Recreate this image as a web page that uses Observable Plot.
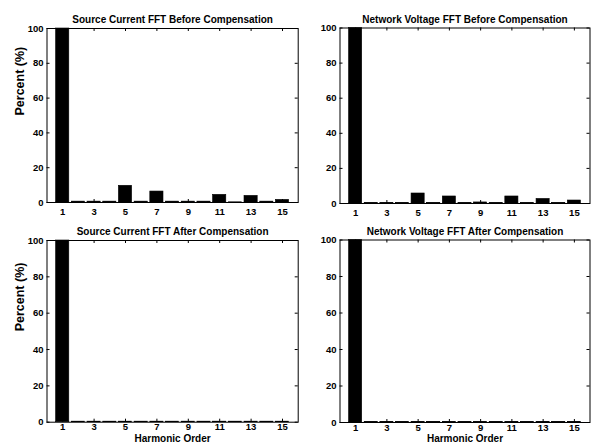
<!DOCTYPE html>
<html>
<head>
<meta charset="utf-8">
<script src="https://cdn.jsdelivr.net/npm/d3@7"></script>
<script src="https://cdn.jsdelivr.net/npm/@observablehq/plot@0.6"></script>
<style>
  html, body { margin: 0; padding: 0; background: #fff; }
  #wrap { position: relative; width: 591px; height: 446px; overflow: hidden; }
  #wrap svg { position: absolute; overflow: visible; }
</style>
</head>
<body>
<div id="wrap"></div>
<script>
const harmonics = [1, 2, 3, 4, 5, 6, 7, 8, 9, 10, 11, 12, 13, 14, 15];
const xTicks = [1, 3, 5, 7, 9, 11, 13, 15];
const yTicks = [0, 20, 40, 60, 80, 100];

const sourceBefore  = [100, 0.5, 0.5, 0.5, 9.6, 0.5, 6.3, 0.5, 0.5, 0.5, 4.4, 0.1, 3.8, 0.5, 1.5];
const networkBefore = [100, 0.2, 0.2, 0.2, 5.7, 0.2, 4.0, 0.2, 0.6, 0.2, 4.0, 0.2, 2.6, 0.2, 1.7];
const sourceAfter   = [100, 0.3, 0.3, 0.3, 0.3, 0.3, 0.3, 0.3, 0.3, 0.3, 0.3, 0.3, 0.3, 0.3, 0.3];
const networkAfter  = [100, 0.3, 0.3, 0.3, 0.3, 0.3, 0.3, 0.3, 0.3, 0.3, 0.3, 0.3, 0.3, 0.3, 0.3];

const titles = [
  "Source Current FFT Before Compensation",
  "Network Voltage FFT Before Compensation",
  "Source Current FFT After Compensation",
  "Network Voltage FFT After Compensation"
];
const yLabel = "Percent (%)";
const xLabel = "Harmonic Order";

const panels = [
  {title: titles[0], values: sourceBefore,  left: 0,   top: 0,   width: 300, height: 220, mL: 46.5, mR: 2.3, mT: 28,   mB: 18,   yl: true,  xl: false},
  {title: titles[1], values: networkBefore, left: 300, top: 0,   width: 291, height: 220, mL: 39.5, mR: 1.5, mT: 27.5, mB: 17,   yl: false, xl: false},
  {title: titles[2], values: sourceAfter,   left: 0,   top: 220, width: 300, height: 226, mL: 46.5, mR: 2.3, mT: 20,   mB: 24.3, yl: true,  xl: true},
  {title: titles[3], values: networkAfter,  left: 300, top: 220, width: 291, height: 226, mL: 39.5, mR: 1.5, mT: 19.5, mB: 24,   yl: false, xl: true}
];

const wrap = document.getElementById("wrap");
for (const p of panels) {
  const data = harmonics.map((h, i) => ({h, v: p.values[i]}));
  const plotH = p.height - p.mT - p.mB;
  const plotW = p.width - p.mL - p.mR;
  const marks = [
    Plot.barY(data, {x: "h", y: "v", fill: "black", stroke: "black", strokeWidth: 0.6}),
    Plot.frame({stroke: "black", strokeWidth: 1}),
    Plot.tickX(xTicks, {x: d => d, stroke: "black", insetTop: plotH - 3}),
    Plot.tickX(xTicks, {x: d => d, stroke: "black", insetBottom: plotH - 3}),
    Plot.tickY(yTicks, {y: d => d, stroke: "black", insetRight: plotW - 3}),
    Plot.tickY(yTicks, {y: d => d, stroke: "black", insetLeft: plotW - 3}),
    Plot.axisX({ticks: xTicks, tickSize: 0, tickPadding: p.xl ? 1.5 : 5.5, label: null, fontSize: 9.5}),
    Plot.axisY({ticks: yTicks, tickSize: 0, tickPadding: 3.5, label: null, fontSize: 9.5}),
    Plot.text([p.title], {text: d => d, frameAnchor: "top", dy: -12.3, fontSize: 10, fontWeight: "bold", fill: "black"})
  ];
  if (p.yl) marks.push(Plot.text([yLabel], {text: d => d, frameAnchor: "left", rotate: -90, dx: -27.5, fontSize: 12.5, fontWeight: "bold", fill: "black"}));
  if (p.xl) marks.push(Plot.text([xLabel], {text: d => d, frameAnchor: "bottom", dy: 19.3, fontSize: 10, fontWeight: "bold", fill: "black"}));
  const svg = Plot.plot({
    width: p.width, height: p.height,
    marginLeft: p.mL, marginRight: p.mR, marginTop: p.mT, marginBottom: p.mB,
    style: {fontFamily: "'Liberation Sans', Arial, sans-serif", fontWeight: "bold", fontSize: "9.5px", color: "black", background: "transparent", overflow: "visible"},
    x: {type: "band", domain: harmonics, paddingInner: 0.16, paddingOuter: 0.58, align: 0.5, round: false},
    y: {domain: [0, 100]},
    marks
  });
  svg.style.left = p.left + "px";
  svg.style.top = p.top + "px";
  wrap.appendChild(svg);
}
</script>
</body>
</html>
